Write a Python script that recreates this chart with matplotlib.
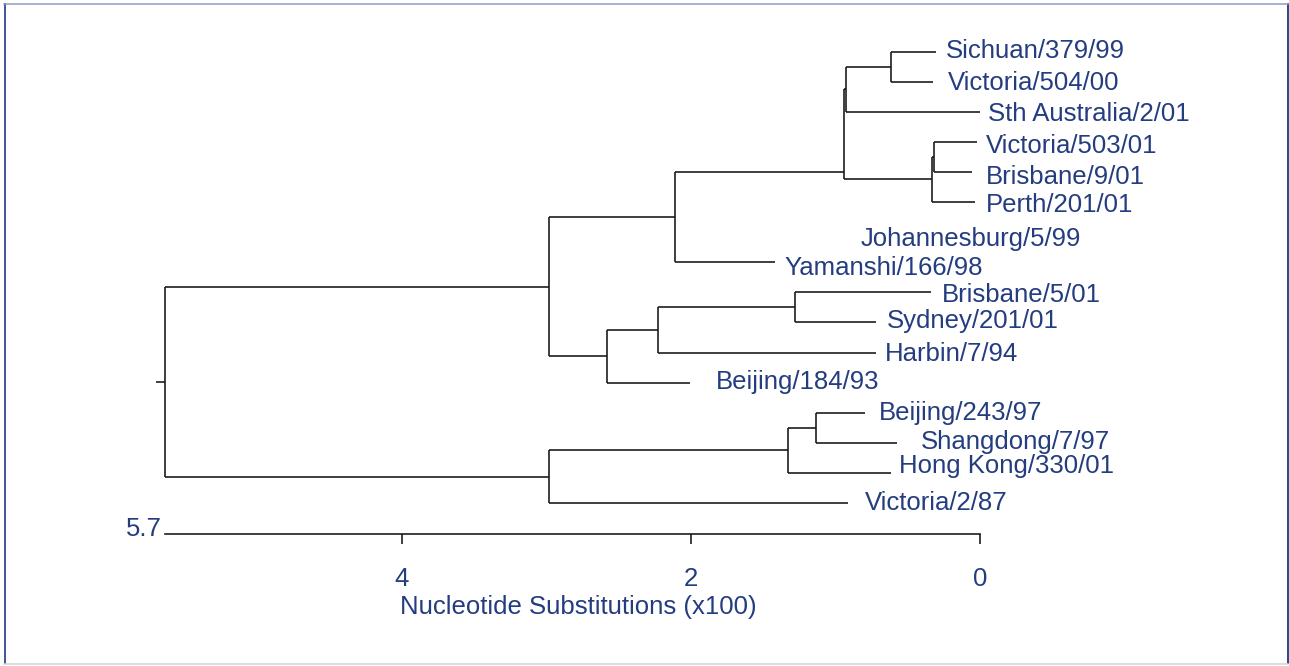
import matplotlib
matplotlib.use("Agg")
import matplotlib.pyplot as plt
from matplotlib.lines import Line2D

plt.rcParams['font.family'] = ['Liberation Sans', 'DejaVu Sans']

# ---------------- data ----------------
leaf_names = ["Sichuan/379/99", "Victoria/504/00", "Sth Australia/2/01",
              "Victoria/503/01", "Brisbane/9/01", "Perth/201/01",
              "Johannesburg/5/99", "Yamanshi/166/98", "Brisbane/5/01",
              "Sydney/201/01", "Harbin/7/94", "Beijing/184/93",
              "Beijing/243/97", "Shangdong/7/97", "Hong Kong/330/01",
              "Victoria/2/87"]
# tip position on the substitution scale (x100)
leaf_heights = [0.304, 0.325, 0.0, 0.021, 0.055, 0.035, 0.886, 1.419,
                0.339, 0.720, 0.720, 2.007, 0.796, 0.574, 0.616, 0.913]
# leaves drawn without a branch in the original
unlinked_leaves = ["Johannesburg/5/99"]

node_names = ["n_SV", "n_SVS", "n_VB", "n_VBP", "n_up", "n_Y", "n_BS",
              "n_BSH", "n_BSHB", "n_A", "n_BSh", "n_BShH", "n_B", "root"]
node_children = [("Sichuan/379/99", "Victoria/504/00"),
                 ("n_SV", "Sth Australia/2/01"),
                 ("Victoria/503/01", "Brisbane/9/01"),
                 ("n_VB", "Perth/201/01"),
                 ("n_SVS", "n_VBP"),
                 ("n_up", "Yamanshi/166/98"),
                 ("Brisbane/5/01", "Sydney/201/01"),
                 ("n_BS", "Harbin/7/94"),
                 ("n_BSH", "Beijing/184/93"),
                 ("n_Y", "n_BSHB"),
                 ("Beijing/243/97", "Shangdong/7/97"),
                 ("n_BSh", "Hong Kong/330/01"),
                 ("n_BShH", "Victoria/2/87"),
                 ("n_A", "n_B")]
node_heights = [0.616, 0.927, 0.318, 0.332, 0.941, 2.111, 1.280,
                2.228, 2.581, 2.983, 1.135, 1.329, 2.983, 5.640]
root_stub = 5.7
tick_values = [4, 2, 0]
tick_labels = ["4", "2", "0"]
axis_label = "Nucleotide Substitutions (x100)"

# ---------------- style / layout ----------------
NAVY = '#243c80'
LINE = '#141414'
LW = 1.15
FS = 18.5
# label (x gap px, cap-centre shift px, downward)
label_gap = [11, 16, 9, 10, 15, 12, 10, 10, 12, 12, 10, 27, 15, 25, 9, 18]
label_dy = [-3, -1, 0, 2, 3, 1, 5, 4, 1, -3, -1, -3, -2, -3, -9, -2]
node_y_override = {"n_up": 4.0}

W, H = 1289, 666
fig = plt.figure(figsize=(W / 100, H / 100), dpi=100)
ax = fig.add_axes([0, 0, 1, 1])
X0, XS = 980.0, 144.5      # px of 0, px per unit
Y0, YS = 51.5, 30.1        # px of first leaf, px per leaf
ax.set_xlim(X0 / XS, (X0 - W) / XS)
ax.set_ylim((H - Y0) / YS, (0 - Y0) / YS)

# ---------------- tree ----------------
ypos = {n: float(i) for i, n in enumerate(leaf_names)}
hpos = dict(zip(leaf_names, leaf_heights))
for name, ch, h in zip(node_names, node_children, node_heights):
    hpos[name] = h
    ys = [ypos[c] for c in ch]
    ypos[name] = node_y_override.get(name, sum(ys) / len(ys))
    ax.plot([h, h], [min(ys), max(ys)], color=LINE, lw=LW,
            solid_capstyle='butt')
    for c in ch:
        ax.plot([h, hpos[c]], [ypos[c], ypos[c]], color=LINE, lw=LW,
                solid_capstyle='butt')
ax.plot([root_stub, hpos["root"]], [ypos["root"]] * 2, color=LINE, lw=LW,
        solid_capstyle='butt')

for i, (name, h) in enumerate(zip(leaf_names, leaf_heights)):
    ax.annotate(name, xy=(h, i), xytext=(label_gap[i] - 1, -(label_dy[i] + 9)),
                textcoords='offset pixels', ha='left', va='baseline',
                fontsize=FS, color=NAVY)

# ---------------- scale axis ----------------
axis_y = (534 - Y0) / YS
for s in ['top', 'left', 'right']:
    ax.spines[s].set_visible(False)
ax.spines['bottom'].set_position(('data', axis_y))
ax.spines['bottom'].set_bounds(0, hpos["root"])
ax.spines['bottom'].set_color(LINE)
ax.spines['bottom'].set_linewidth(LW)
ax.set_yticks([])
ax.set_xticks(tick_values)
ax.set_xticklabels(tick_labels)
ax.tick_params(axis='x', direction='out', length=7.5, width=LW, color=LINE,
               labelsize=FS, labelcolor=NAVY, pad=16)
ax.set_xlabel(axis_label, fontsize=FS, color=NAVY)
ax.xaxis.set_label_coords((X0 - 578) / XS, (607 - Y0) / YS, transform=ax.transData)
ax.xaxis.label.set_va('center')
ax.annotate(f"{root_stub}", xy=(hpos["root"], axis_y), xytext=(-3, -2),
            textcoords='offset pixels', ha='right', va='baseline',
            fontsize=FS, color=NAVY)

# ---------------- frame ----------------
def fl(x0, y0, x1, y1, c, lw):
    fig.add_artist(Line2D([x0 / W, x1 / W], [1 - y0 / H, 1 - y1 / H],
                          transform=fig.transFigure, color=c, lw=lw))

fl(4.5, 4, 4.5, 663, '#3a5597', 1.4)
fl(1287.5, 4, 1287.5, 663, '#2c4686', 1.4)
fl(4, 4, 1288, 4, '#8e9cc4', 1.1)
fl(4, 664, 1288, 664, '#d4d4d4', 1.1)

fig.savefig("out.png", dpi=100)
